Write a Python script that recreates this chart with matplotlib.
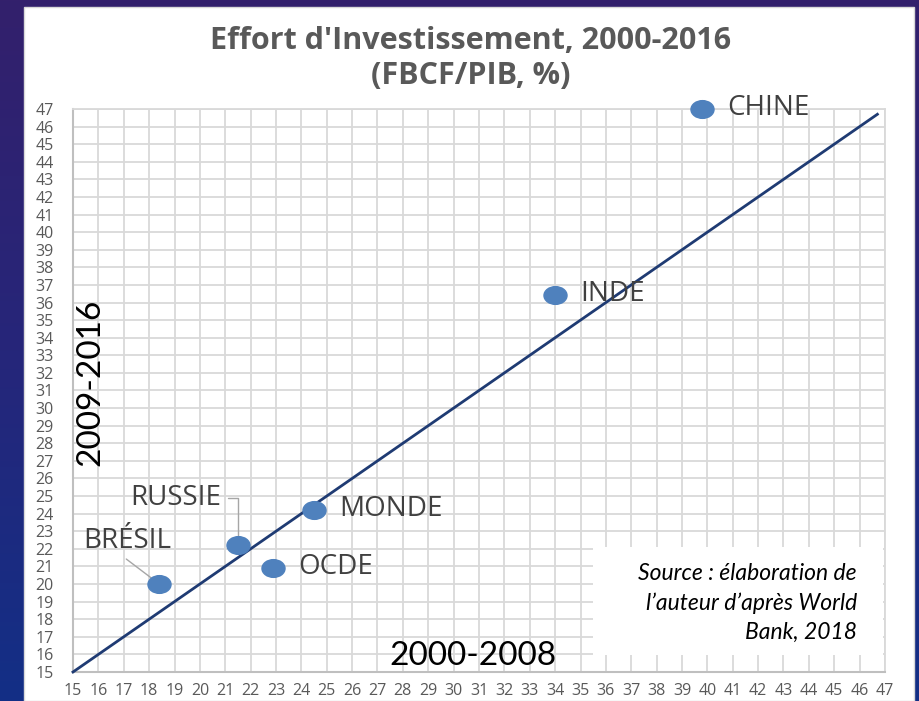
import numpy as np
import matplotlib
matplotlib.use("Agg")
import matplotlib.pyplot as plt
from matplotlib.path import Path
from matplotlib.transforms import Affine2D
from matplotlib.patches import Rectangle

# data (x: 2000-2008, y: 2009-2016, FBCF/PIB %)
pays = ["CHINE", "INDE", "MONDE", "OCDE", "RUSSIE", "BRÉSIL"]
moy_2000_2008 = [39.8, 34.0, 24.5, 22.9, 21.5, 18.4]
moy_2009_2016 = [47.0, 36.4, 24.2, 20.9, 22.2, 20.0]
ticks = list(range(15, 48))
diag = [15, 46.7]

GRIS = "#595959"
TXT = "#404040"
BLEU = "#4f81bd"

fig = plt.figure(figsize=(9.2, 7.01), dpi=100)

# dark blue / purple background with a white card
bg = fig.add_axes([0, 0, 1, 1], zorder=-10)
grad = np.linspace(0, 1, 256).reshape(-1, 1)
cmap = matplotlib.colors.LinearSegmentedColormap.from_list("bg", ["#33206c", "#26267a", "#132f86"])
bg.imshow(grad, aspect="auto", cmap=cmap, extent=[0, 1, 0, 1], origin="upper")
bg.set_axis_off()
fig.patches.append(Rectangle((24 / 920, 0), (914 - 24) / 920, (701 - 7) / 701,
                             transform=fig.transFigure, fc="white", ec="#d9d9d9", lw=1, zorder=-5))

ax = fig.add_axes([73 / 920, 1 - 672 / 701, (885 - 73) / 920, (672 - 109) / 701])
ax.set_facecolor("none")
ax.set_xlim(15, 47)
ax.set_ylim(15, 47)
ax.set_xticks(ticks)
ax.set_yticks(ticks)
ax.grid(True, color="#d9d9d9", lw=1.3)
ax.set_axisbelow(True)
for s in ["top", "right"]:
    ax.spines[s].set_color("#d9d9d9")
    ax.spines[s].set_linewidth(1.3)
for s in ["left", "bottom"]:
    ax.spines[s].set_color("#bfbfbf")
    ax.spines[s].set_linewidth(1.5)
ax.tick_params(length=0, labelsize=11.5, labelcolor=GRIS)
ax.tick_params(axis="x", pad=8)
ax.tick_params(axis="y", pad=14)
for lab in ax.get_xticklabels() + ax.get_yticklabels():
    lab.set_family("Open Sans")

# 45 degree line
ax.plot(diag, diag, color="#1f3b73", lw=2, zorder=3, clip_on=False)

# slightly flattened round markers
ell = Path.unit_circle().transformed(Affine2D().scale(1.3, 1.0))
ax.scatter(moy_2000_2008, moy_2009_2016, marker=ell, s=275, color=BLEU, zorder=4, clip_on=False)

lab_kw = dict(textcoords="offset pixels", fontsize=20, color=TXT, family="Open Sans", va="center")
for nom, x, y in zip(pays[:4], moy_2000_2008[:4], moy_2009_2016[:4]):
    ax.annotate(nom, (x, y), xytext=(25, 1), ha="left", **lab_kw)

# RUSSIE with elbow leader
ax.annotate(pays[4], (moy_2000_2008[4], moy_2009_2016[4]), xytext=(-17, 47), ha="right", **lab_kw)
ax.annotate("", (moy_2000_2008[4], moy_2009_2016[4]), xytext=(-10, 47), textcoords="offset pixels",
            arrowprops=dict(arrowstyle="-", color="#a6a6a6", lw=1,
                            connectionstyle="angle,angleA=0,angleB=90,rad=0",
                            shrinkA=0, shrinkB=0))
# BRÉSIL with slanted leader
ax.annotate(pays[5], (moy_2000_2008[5], moy_2009_2016[5]), xytext=(-32, 43), ha="center", **lab_kw)
ax.annotate("", (moy_2000_2008[5], moy_2009_2016[5]), xytext=(-33, 25), textcoords="offset pixels",
            arrowprops=dict(arrowstyle="-", color="#a6a6a6", lw=1, shrinkA=0, shrinkB=0))

# axis titles inside the plot
fig.text(90 / 920, 1 - 382 / 701, "2009-2016", rotation=90,
         fontsize=24, family="Lato", color="black", ha="center", va="center")
fig.text(473 / 920, 1 - 656 / 701, "2000-2008",
         fontsize=24, family="Lato", color="black", ha="center", va="center")

# source box
fig.patches.append(Rectangle((593 / 920, 1 - 655 / 701), (883 - 593) / 920, (655 - 547) / 701,
                             transform=fig.transFigure, fc="white", ec="none", zorder=5))
for txt, yy in zip(["Source : élaboration de", "l\u2019auteur d\u2019après World", "Bank, 2018"],
                   [573, 603, 632]):
    fig.text(857 / 920, 1 - yy / 701, txt, ha="right", va="center", fontsize=16.5,
             family="Lato", style="italic", color="black", zorder=6)

# title
fig.text(471 / 920, 1 - 41 / 701, "Effort d'Investissement, 2000-2016", ha="center", va="center",
         fontsize=22, weight="bold", color=GRIS, family="Open Sans")
fig.text(471 / 920, 1 - 76 / 701, "(FBCF/PIB, %)", ha="center", va="center",
         fontsize=22, weight="bold", color=GRIS, family="Open Sans")

fig.savefig("out.png", dpi=100)
